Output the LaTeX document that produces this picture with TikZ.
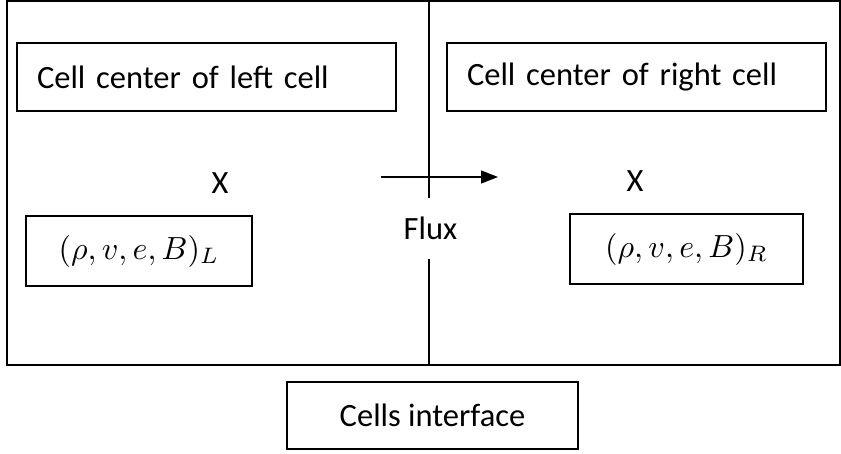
\documentclass[tikz,border=0pt]{standalone}
\usepackage{fontspec}
\setmainfont{Carlito}
\usetikzlibrary{arrows.meta}
\newcommand{\bigmath}[1]{\scalebox{3.2}{$#1$}}
\begin{document}
\begin{tikzpicture}[x=1pt,y=-1pt,
  box/.style={draw=black, line width=1.3pt, inner sep=0pt},
  lbl/.style={font=\fontsize{32.5}{36}\selectfont},
  frame/.style={draw=black, line width=1.8pt},
  iface/.style={draw=black, line width=1.3pt},
  flow/.style={draw=black, line width=1.3pt, -{Triangle[length=17pt,width=13pt]}}
]
\useasboundingbox (0,0) rectangle (841,453);
% outer frame
\draw[frame] (7,1) rectangle (840,365);
% interface line
\coordinate (itop) at (429,1);
\coordinate (ibot) at (429,365);
\draw[iface] (itop) -- (ibot);
% boxes
\node[box, lbl, minimum width=379pt, minimum height=68pt, text width=339pt, align=left, anchor=center] (lc) at (206.5,77) {Cell center of left cell};
\node[box, lbl, minimum width=379pt, minimum height=68pt, text width=339pt, align=left, anchor=center] (rc) at (636.5,77) {Cell center of right cell};
\node[lbl] (xl) at (220,183) {X};
\node[lbl] (xr) at (635,181) {X};
\node[box, minimum width=226pt, minimum height=70pt] (ls) at (139,251) {\bigmath{(\rho,v,e,B)_L}};
\node[box, minimum width=233pt, minimum height=70pt] (rs) at (686.5,249) {\bigmath{(\rho,v,e,B)_R}};
\node[fill=white, lbl, minimum height=61pt, inner xsep=2pt] (flux) at (430.5,228.5) {Flux};
\coordinate (a1) at (381,177);
\coordinate (a2) at (498,177);
\draw[flow] (a1) -- (a2);
\node[box, lbl, minimum width=291pt, minimum height=67pt] (ci) at (432.5,415.5) {Cells interface};
\end{tikzpicture}
\end{document}
